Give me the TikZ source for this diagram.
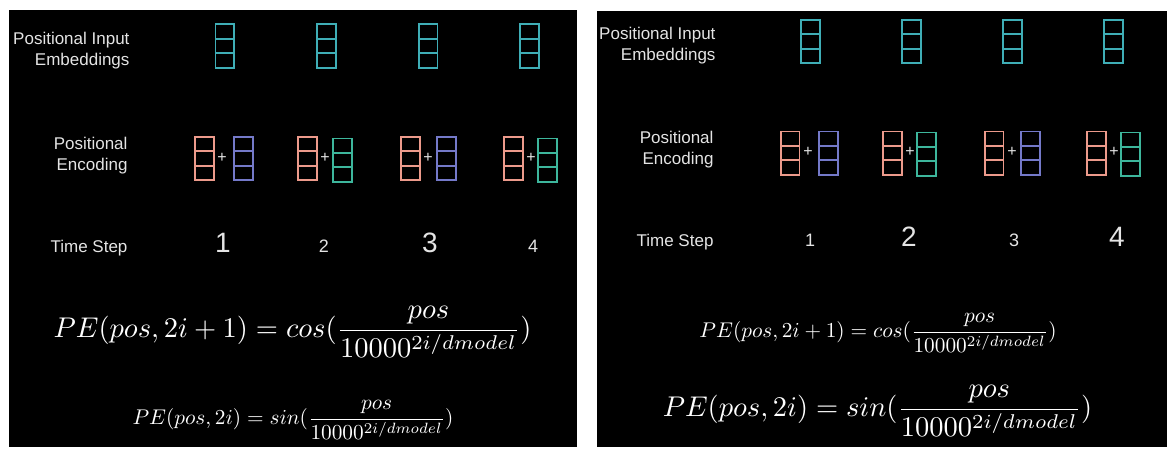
\documentclass[tikz,border=0pt]{standalone}
\usepackage{fontspec}
\setmainfont{Liberation Sans}
\usepackage{amsmath}
\usepackage{graphicx}
\usepackage{xcolor}
\usepackage{tikz}
\usetikzlibrary{shapes.multipart, positioning}

\definecolor{embteal}{HTML}{3FAEB6}
\definecolor{encsalmon}{HTML}{EC9A8B}
\definecolor{encblue}{HTML}{7479C9}
\definecolor{encgreen}{HTML}{3DB69C}
\definecolor{labelgray}{HTML}{E4E4E4}

\begin{document}
\begin{tikzpicture}[
  x=1pt, y=-1pt,
  stk/.style={rectangle split, rectangle split parts=3, draw, line width=1.8pt, inner sep=0pt,
    rectangle split empty part width=13.2pt, rectangle split empty part height=12.6pt,
    rectangle split empty part depth=0pt},
  lbl/.style={text=labelgray, align=right, anchor=east, font=\fontsize{17}{21}\selectfont},
  plus/.style={text=labelgray, inner sep=0pt, font=\fontsize{16}{16}\selectfont},
  bignum/.style={text=labelgray, anchor=base, inner sep=0pt, font=\fontsize{28}{28}\selectfont},
  smallnum/.style={text=labelgray, anchor=base, inner sep=0pt, font=\fontsize{18}{18}\selectfont},
  eq/.style={text=white, inner sep=0pt}
]
  % background and the two panels
  \fill[white] (0,0) rectangle (1174,452);
  \fill[black] (9,10) rectangle (577,447);
  \fill[black] (597,11) rectangle (1167,447);

  % left panel
  \node[lbl] (lemb) at (133,50.5) {Positional Input\\Embeddings};
  \node[lbl] (lenc) at (131,155.5) {Positional\\Encoding};
  \node[lbl, anchor=base east] (lstep) at (131,252) {Time Step};

  \node[stk, draw=embteal] (le1) at (224.8,46) {};
  \node[stk, draw=embteal] (le2) at (326.5,46) {};
  \node[stk, draw=embteal] (le3) at (428.3,46) {};
  \node[stk, draw=embteal] (le4) at (529.5,46) {};

  \node[stk, draw=encsalmon] (lp1) at (204.5,158.5) {};
  \node[plus] (lplus1) at (222,158) {+};
  \node[stk, draw=encblue] (lq1) at (243.5,158.5) {};
  \node[stk, draw=encsalmon] (lp2) at (307.5,158.5) {};
  \node[plus] (lplus2) at (325,158) {+};
  \node[stk, draw=encgreen] (lq2) at (342.5,160) {};
  \node[stk, draw=encsalmon] (lp3) at (410.5,158.5) {};
  \node[plus] (lplus3) at (428,158) {+};
  \node[stk, draw=encblue] (lq3) at (446.5,158.5) {};
  \node[stk, draw=encsalmon] (lp4) at (513.5,158.5) {};
  \node[plus] (lplus4) at (531,158) {+};
  \node[stk, draw=encgreen] (lq4) at (547.5,160) {};

  \node[bignum] (lt1) at (223,252) {1};
  \node[smallnum] (lt2) at (324,252) {2};
  \node[bignum] (lt3) at (430,252) {3};
  \node[smallnum] (lt4) at (533,252) {4};

  \node[eq] (lcos) at (292.5,332)
    {\scalebox{2.85}{$\displaystyle PE(pos,2i+1) = cos(\frac{pos}{10000^{2i/dmodel}})$}};
  \node[eq] (lsin) at (293,420)
    {\scalebox{2.13}{$\displaystyle PE(pos,2i) = sin(\frac{pos}{10000^{2i/dmodel}})$}};

  % right panel
  \node[lbl] (remb) at (719,46) {Positional Input\\Embeddings};
  \node[lbl] (renc) at (717,149.5) {Positional\\Encoding};
  \node[lbl, anchor=base east] (rstep) at (717,246.5) {Time Step};

  \node[stk, draw=embteal] (re1) at (810.5,41.5) {};
  \node[stk, draw=embteal] (re2) at (911.5,41.5) {};
  \node[stk, draw=embteal] (re3) at (1012.5,41.5) {};
  \node[stk, draw=embteal] (re4) at (1113.5,41.5) {};

  \node[stk, draw=encsalmon] (rp1) at (790.2,153) {};
  \node[plus] (rplus1) at (808,152) {+};
  \node[stk, draw=encblue] (rq1) at (828.5,153) {};
  \node[stk, draw=encsalmon] (rp2) at (892.5,153) {};
  \node[plus] (rplus2) at (910,152) {+};
  \node[stk, draw=encgreen] (rq2) at (926.5,154) {};
  \node[stk, draw=encsalmon] (rp3) at (994.2,153) {};
  \node[plus] (rplus3) at (1012,152) {+};
  \node[stk, draw=encblue] (rq3) at (1030.5,153) {};
  \node[stk, draw=encsalmon] (rp4) at (1096.5,153) {};
  \node[plus] (rplus4) at (1114,152) {+};
  \node[stk, draw=encgreen] (rq4) at (1130.5,154) {};

  \node[smallnum] (rt1) at (810,246.5) {1};
  \node[bignum] (rt2) at (909,246.5) {2};
  \node[smallnum] (rt3) at (1014,246.5) {3};
  \node[bignum] (rt4) at (1117,246.5) {4};

  \node[eq] (rcos) at (878,333)
    {\scalebox{2.13}{$\displaystyle PE(pos,2i+1) = cos(\frac{pos}{10000^{2i/dmodel}})$}};
  \node[eq] (rsin) at (877.5,411)
    {\scalebox{2.85}{$\displaystyle PE(pos,2i) = sin(\frac{pos}{10000^{2i/dmodel}})$}};
\end{tikzpicture}
\end{document}
